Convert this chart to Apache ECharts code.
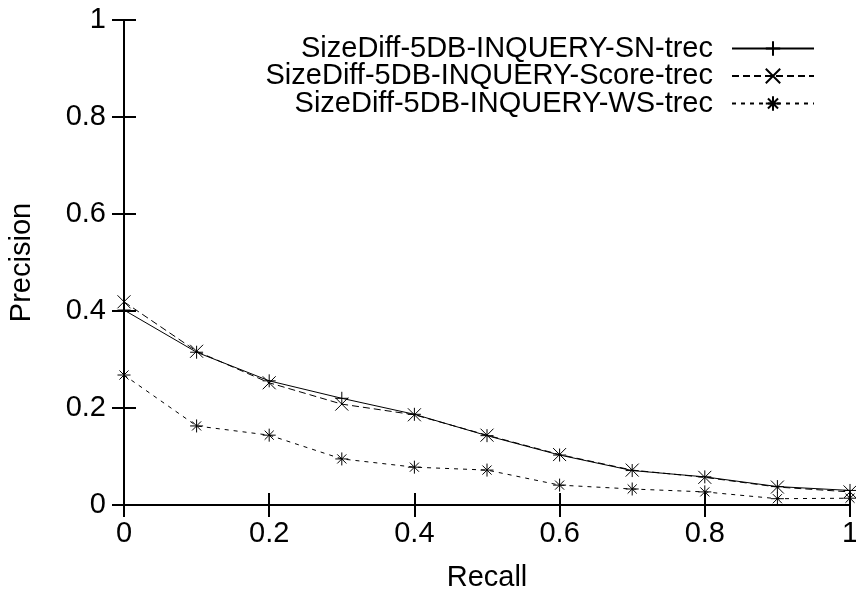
<!DOCTYPE html>
<html>
<head>
<meta charset="utf-8">
<script src="https://cdn.jsdelivr.net/npm/echarts@6/dist/echarts.min.js"></script>
<style>html,body{margin:0;padding:0;background:#fff}#c{width:856px;height:592px}</style>
</head>
<body>
<div id="c"></div>
<script>
const recall = [0, 0.1, 0.2, 0.3, 0.4, 0.5, 0.6, 0.7, 0.8, 0.9, 1.0];
const snValues = [0.402, 0.315, 0.256, 0.220, 0.187, 0.143, 0.103, 0.071, 0.058, 0.038, 0.030];
const scoreValues = [0.419, 0.317, 0.252, 0.208, 0.186, 0.144, 0.104, 0.072, 0.057, 0.037, 0.027];
const wsValues = [0.268, 0.163, 0.144, 0.095, 0.078, 0.072, 0.041, 0.033, 0.027, 0.013, 0.014];
const seriesNames = ['SizeDiff-5DB-INQUERY-SN-trec', 'SizeDiff-5DB-INQUERY-Score-trec', 'SizeDiff-5DB-INQUERY-WS-trec'];
const xTicks = [0, 0.2, 0.4, 0.6, 0.8, 1];

const FONT = 'Liberation Sans';
const FS = 29;
const pair = (vals) => recall.map((x, i) => [x, vals[i]]);

const symPlus = 'path://M0,5L10,5M5,0L5,10';
const symCross = 'path://M0,0L10,10M10,0L0,10';
const symStar = 'path://M0,5L10,5M5,0L5,10M1.5,1.5L8.5,8.5M8.5,1.5L1.5,8.5';

function mk(name, vals, sym, dash) {
  return {
    name: name, type: 'line', data: pair(vals), xAxisIndex: 0, yAxisIndex: 0,
    symbol: sym, symbolSize: 13, showSymbol: true, clip: false,
    lineStyle: { color: '#000', width: 1, type: dash },
    itemStyle: { color: 'rgba(0,0,0,0)', borderColor: '#000', borderWidth: 1 },
    emphasis: { disabled: true }, animation: false
  };
}

const axisCommon = {
  min: 0, max: 1, interval: 0.2,
  splitLine: { show: false },
  axisLine: { show: true, lineStyle: { color: '#000', width: 2 } },
  axisTick: { show: true, inside: true, length: 12, lineStyle: { color: '#000', width: 2 } }
};

const chart = echarts.init(document.getElementById('c'), null, { renderer: 'canvas' });
chart.setOption({
  backgroundColor: '#fff',
  animation: false,
  grid: { left: 124, right: 6, top: 20, bottom: 87, containLabel: false, outerBoundsMode: 'none' },
  xAxis: [
    Object.assign({}, axisCommon, {
      type: 'value', position: 'bottom',
      name: 'Recall', nameLocation: 'middle', nameGap: 58,
      nameTextStyle: { fontFamily: FONT, fontSize: FS, color: '#000' },
      axisLabel: { fontFamily: FONT, fontSize: FS, color: '#000', margin: 14,
        formatter: v => String(+v.toFixed(1)) }
    }),
    Object.assign({}, axisCommon, { type: 'value', position: 'top', axisLabel: { show: false } })
  ],
  yAxis: [
    Object.assign({}, axisCommon, {
      type: 'value', position: 'left',
      name: 'Precision', nameLocation: 'middle', nameGap: 88, nameRotate: 90,
      nameTextStyle: { fontFamily: FONT, fontSize: FS, color: '#000' },
      axisLabel: { fontFamily: FONT, fontSize: FS, color: '#000', margin: 18,
        formatter: v => String(+v.toFixed(1)) }
    }),
    Object.assign({}, axisCommon, { type: 'value', position: 'right', axisLabel: { show: false } })
  ],
  legend: {
    orient: 'vertical', right: 36, top: 29, align: 'right',
    itemWidth: 82, itemHeight: 18, itemGap: -1.5,
    selectedMode: false,
    data: seriesNames,
    textStyle: { fontFamily: FONT, fontSize: FS, color: '#000', lineHeight: 27.5, padding: [0, 14, 0, 0] }
  },
  series: [
    mk(seriesNames[0], snValues, symPlus, 'solid'),
    mk(seriesNames[1], scoreValues, symCross, [7, 4]),
    mk(seriesNames[2], wsValues, symStar, [4, 5])
  ]
});
</script>
</body>
</html>
